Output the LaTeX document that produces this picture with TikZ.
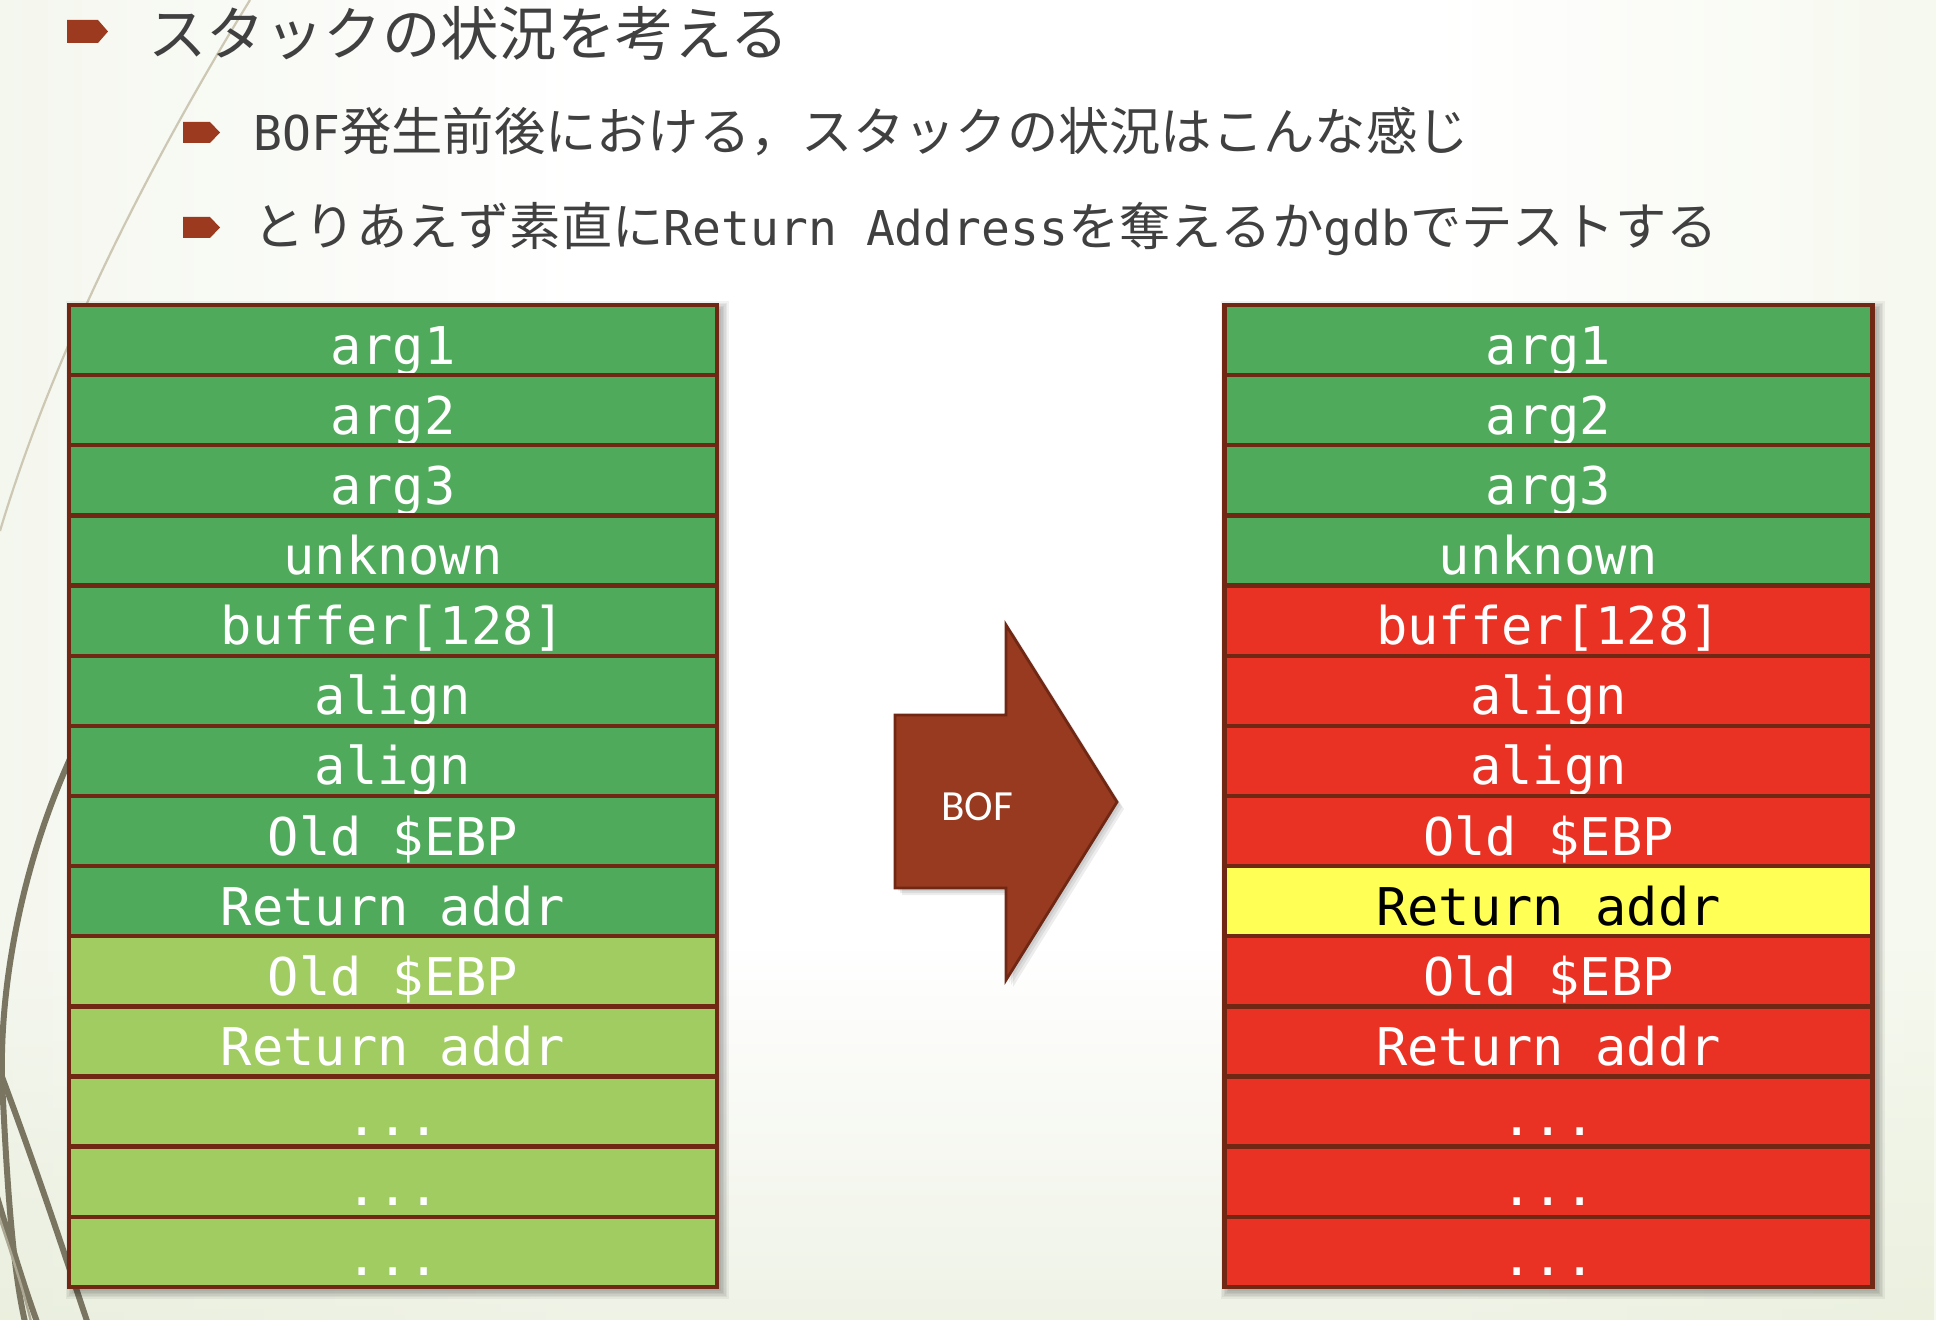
\documentclass[tikz,border=0pt]{standalone}
\usepackage{fontspec}
\setmainfont{Carlito}
\newfontfamily\jpf{Noto Sans CJK JP}
\newfontfamily\monof{DejaVu Sans Mono}
\newcommand\lat[1]{{\monof\fontsize{24}{30}\selectfont #1}}
\newcommand\stackdots{...}
\usetikzlibrary{fadings}
\definecolor{bgl}{RGB}{226,233,210}
\definecolor{bgr}{RGB}{226,235,204}
\definecolor{brd}{RGB}{112,40,20}
\definecolor{dg}{RGB}{79,170,91}
\definecolor{lg}{RGB}{161,204,98}
\definecolor{rd}{RGB}{233,50,36}
\definecolor{yl}{RGB}{255,255,85}
\definecolor{bul}{RGB}{156,58,31}
\definecolor{arr}{RGB}{152,58,31}
\definecolor{txt}{RGB}{64,64,64}
\definecolor{decoc}{RGB}{122,117,97}
\definecolor{decol}{RGB}{172,168,148}
\definecolor{thinc}{RGB}{205,200,180}
\pgfdeclarehorizontalshading{bgh}{100bp}{color(0bp)=(bgl); color(24bp)=(white!60!bgl); color(40bp)=(white); color(62bp)=(white); color(80bp)=(white!55!bgr); color(100bp)=(bgr)}
\begin{document}
\begin{tikzpicture}[x=0.5pt,y=-0.5pt,
  stackrow/.style={draw=brd, line width=2.2pt, minimum width=324pt, minimum height=35.07pt,
    inner sep=0pt, text height=24pt, text depth=0pt, font=\monof\fontsize{26}{30}\selectfont},
  bulletshape/.style={fill=bul},
  ttl/.style={anchor=base west, inner sep=0pt, text=txt, font=\jpf\fontsize{29.2}{34}\selectfont},
  subtext/.style={anchor=base west, inner sep=0pt, text=txt, font=\jpf\fontsize{25.65}{30}\selectfont},
  decoline/.style={draw=decoc, line width=3pt},
]
\useasboundingbox (0,0) rectangle (1936,1320);
\shade[shading=bgh] (0,0) rectangle (1936,1320);
\fill[bgl, path fading=north, fill opacity=0.55] (0,950) rectangle (1936,1320);

% decorative lines
\begin{scope}
\clip (0,0) rectangle (1936,1320);
\draw[thinc, line width=1.1pt] (250,0) .. controls (170,130) and (60,330) .. (0,531);
\draw[decoline] (100,700) .. controls (20,840) and (-4,1000) .. (3,1100) .. controls (8,1200) and (14,1280) .. (27,1330);
\draw[decoline] (-10,1045) .. controls (30,1150) and (60,1240) .. (90,1330);
\draw[decoline] (-5,1190) .. controls (10,1240) and (25,1290) .. (40,1330);
\draw[decol, line width=1.2pt] (-5,1205) .. controls (12,1255) and (25,1295) .. (33,1330);
\end{scope}

% title and bullets
\fill[bulletshape] (67,20) -- (98,20) -- (108,31.5) -- (98,43) -- (67,43) -- cycle;
\node[ttl] (title) at (148,56) {スタックの状況を考える};
\fill[bulletshape] (183,122) -- (210,122) -- (220,132.5) -- (210,143) -- (183,143) -- cycle;
\node[subtext] (s1) at (253,151) {\lat{BOF}発生前後における，スタックの状況はこんな感じ};
\fill[bulletshape] (183,217) -- (210,217) -- (220,227.5) -- (210,238) -- (183,238) -- cycle;
\node[subtext] (s2) at (253,246) {とりあえず素直に\lat{Return Address}を奪えるか\lat{gdb}でテストする};

% table shadows
\foreach \k in {0,...,5}{
  \fill[black, opacity=0.05] ({69+4-\k*1.5},{305+4-\k*1.5}) rectangle ({717+4+\k*1.5},{1287+4+\k*1.5});
  \fill[black, opacity=0.05] ({1224+4-\k*1.5},{305+4-\k*1.5}) rectangle ({1873+4+\k*1.5},{1287+4+\k*1.5});
}

% left stack
\foreach \t/\f/\c [count=\i] in {arg1/dg/white, arg2/dg/white, arg3/dg/white, unknown/dg/white,
  {buffer[128]}/dg/white, align/dg/white, align/dg/white, {Old \$EBP}/dg/white, {Return addr}/dg/white,
  {Old \$EBP}/lg/white, {Return addr}/lg/white, \stackdots/lg/white, \stackdots/lg/white, \stackdots/lg/white}
  \node[stackrow, fill=\f, text=\c] (L\i) at (393,{305+70.14*(\i-0.5)}) {\t};

% right stack
\foreach \t/\f/\c [count=\i] in {arg1/dg/white, arg2/dg/white, arg3/dg/white, unknown/dg/white,
  {buffer[128]}/rd/white, align/rd/white, align/rd/white, {Old \$EBP}/rd/white, {Return addr}/yl/black,
  {Old \$EBP}/rd/white, {Return addr}/rd/white, \stackdots/rd/white, \stackdots/rd/white, \stackdots/rd/white}
  \node[stackrow, fill=\f, text=\c] (R\i) at (1548.5,{305+70.14*(\i-0.5)}) {\t};

% arrow
\foreach \k in {3,5,7}
  \fill[black, opacity=0.07, shift={(\k,\k)}] (895,715) -- (1006,715) -- (1006,625) -- (1117,802) -- (1006,980) -- (1006,888) -- (895,888) -- cycle;
\filldraw[fill=arr, draw=brd, line width=1.4pt, line join=miter] (895,715) -- (1006,715) -- (1006,625) -- (1117,802) -- (1006,980) -- (1006,888) -- (895,888) -- cycle;
\node[text=white, font=\fontsize{21.5}{24}\selectfont, inner sep=0pt] (bof) at (977,807) {BOF};
\end{tikzpicture}
\end{document}
